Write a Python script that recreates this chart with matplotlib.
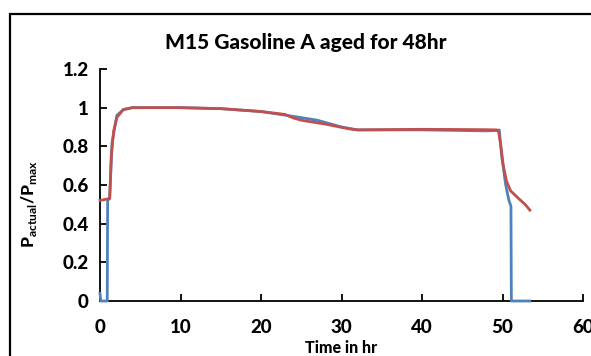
import matplotlib.pyplot as plt
from matplotlib.patches import Rectangle

plt.rcParams["font.family"] = ["Lato", "DejaVu Sans"]
plt.rcParams["mathtext.fontset"] = "custom"
plt.rcParams["mathtext.rm"] = "Lato:bold"
plt.rcParams["mathtext.bf"] = "Lato:bold"

# ----- data -----
t_blue = [0.0, 0.1, 0.9, 0.95, 1.2, 1.5, 2.1, 2.9, 4, 10, 15, 20, 24,
          27, 30, 32, 40, 45, 48, 49.5, 49.6, 49.9, 50.4, 50.8, 51.05,
          51.1, 53.4]
p_blue = [0.04, 0.0, 0.0, 0.52, 0.53, 0.82, 0.96, 0.99, 1.0, 1.0, 0.995,
          0.98, 0.955, 0.935, 0.9, 0.885, 0.885, 0.882, 0.88, 0.882,
          0.885, 0.75, 0.6, 0.52, 0.49, 0.0, 0.0]

t_red = [0.0, 1.2, 1.4, 1.7, 2.1, 2.9, 4, 10, 15, 20, 23, 24, 25, 28, 31,
         32, 40, 45, 48, 49.3, 49.5, 49.8, 50.1, 50.5, 51, 52, 52.8, 53.4]
p_red = [0.52, 0.53, 0.75, 0.88, 0.95, 0.99, 1.0, 1.0, 0.995, 0.98,
         0.965, 0.947, 0.935, 0.915, 0.89, 0.885, 0.888, 0.887, 0.886,
         0.885, 0.88, 0.8, 0.7, 0.62, 0.57, 0.53, 0.5, 0.47]

x_ticks = [0, 10, 20, 30, 40, 50, 60]
y_ticks = [0, 0.2, 0.4, 0.6, 0.8, 1.0, 1.2]
y_labels = ["0", "0.2", "0.4", "0.6", "0.8", "1", "1.2"]

BLUE = "#4F81BD"
RED = "#C0504D"


def main():
    fig = plt.figure(figsize=(5.91, 3.56), dpi=100)
    # outer chart frame (cut off at the right and bottom)
    fig.patches.append(Rectangle((10 / 591, -0.1), 1.2, 1 - 14 / 356 + 0.1,
                                 transform=fig.transFigure, fill=False,
                                 edgecolor="black", lw=1.6))

    ax = fig.add_axes([100 / 591, 1 - 301 / 356, 483 / 591, 232 / 356])
    ax.plot(t_blue, p_blue, color=BLUE, lw=2.0, solid_joinstyle="round",
            zorder=3, clip_on=False)
    ax.plot(t_red, p_red, color=RED, lw=2.0, solid_joinstyle="round",
            zorder=3, clip_on=False)

    ax.set_xlim(0, 60)
    ax.set_ylim(0, 1.2)
    ax.set_xticks(x_ticks)
    ax.set_yticks(y_ticks)
    ax.set_yticklabels(y_labels)
    for s in ("top", "right"):
        ax.spines[s].set_visible(False)
    for s in ("left", "bottom"):
        ax.spines[s].set_linewidth(1.3)
    ax.tick_params(direction="in", length=5, width=1.3, labelsize=13.5,
                   pad=8)
    for lab in ax.get_xticklabels() + ax.get_yticklabels():
        lab.set_fontweight("black")
    ax.tick_params(axis="x", pad=13)

    ax.set_xlabel("Time in hr", fontsize=11.5, fontweight="black",
                  labelpad=3)
    ax.set_ylabel(r"P$_{\mathbf{actual}}$/P$_{\mathbf{max}}$", fontsize=12.5,
                  fontweight="black")
    ax.yaxis.set_label_coords(-0.127, 0.42)

    fig.text(306 / 591, 1 - 42 / 356, "M15 Gasoline A aged for 48hr",
             ha="center", va="center", fontsize=15, fontweight="black")

    fig.savefig("out.png", dpi=100)


if __name__ == "__main__":
    main()
